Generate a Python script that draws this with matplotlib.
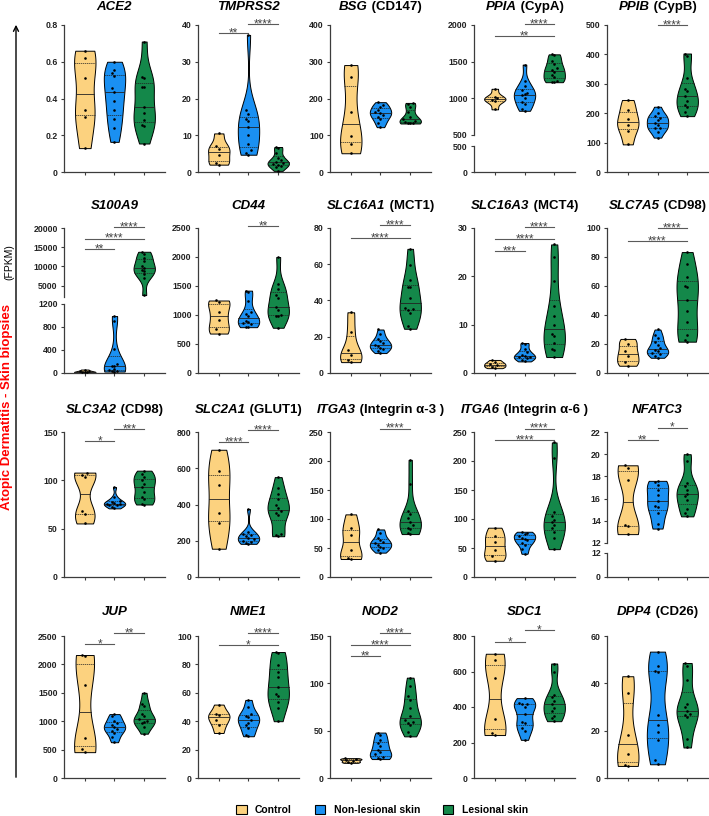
import numpy as np
import matplotlib
matplotlib.use("Agg")
import matplotlib.pyplot as plt
from matplotlib import mlab
from matplotlib.patches import Patch, FancyArrowPatch

plt.rcParams['font.family'] = ['Liberation Sans', 'DejaVu Sans']

W, H = 709, 816

groups = ["Control", "Non-lesional skin", "Lesional skin"]
colors = ["#FCD27F", "#1A90F2", "#14884A"]

# FPKM values: (control, non-lesional, lesional)
ACE2 = ([0.66, 0.62, 0.51, 0.34, 0.30, 0.13],
        [0.60, 0.555, 0.54, 0.52, 0.456, 0.433, 0.387, 0.336, 0.289, 0.238, 0.164],
        [0.71, 0.515, 0.51, 0.464, 0.46, 0.355, 0.322, 0.285, 0.255, 0.25, 0.155])
TMPRSS2 = ([10.5, 7.1, 6.2, 4.6, 2.5, 2.0],
           [37.3, 17.0, 15.7, 14.5, 14.0, 12.2, 10.0, 7.5, 5.9, 5.3, 4.7],
           [6.8, 6.6, 5.2, 3.9, 3.2, 2.8, 2.5, 2.3, 1.9, 1.7, 1.3, 0.3])
BSG = ([291, 259, 164, 97, 75, 51],
       [190, 182, 176, 170, 164, 160, 156, 150, 143, 134, 122],
       [188, 186, 176, 163, 150, 145, 139, 136, 134, 133, 132])
PPIA = ([1130, 1020, 1000, 980, 960, 850],
        [1460, 1230, 1165, 1110, 1075, 1060, 1040, 1000, 955, 920, 860, 830],
        [1600, 1590, 1510, 1470, 1410, 1390, 1360, 1320, 1290, 1240, 1225, 1220])
PPIB = ([245, 210, 180, 160, 140, 94],
        [222, 200, 191, 183, 178, 168, 160, 150, 148, 137, 117],
        [403, 395, 320, 284, 276, 257, 242, 228, 222, 205, 190])
S100A9 = ([60, 40, 30, 20, 15, 10],
          [990, 910, 417, 160, 130, 120, 70, 52, 40, 35, 25],
          [13800, 13300, 12300, 11400, 10100, 9500, 9100, 8700, 8000, 6900, 2500])
CD44 = ([1250, 1230, 1060, 910, 750, 680],
        [1420, 1390, 1240, 1060, 1010, 980, 900, 880, 860, 850, 800, 790],
        [2000, 1530, 1440, 1350, 1300, 1130, 1080, 1000, 985, 975, 780])
SLC16A1 = ([33.5, 22.7, 12.5, 9.8, 7.2, 6.0],
           [24.0, 21.3, 19.0, 17.6, 16.7, 15.5, 15.0, 14.0, 13.5, 12.0, 11.0],
           [68.5, 59.8, 51.3, 47.6, 47.3, 41.6, 35.8, 35.3, 35.0, 33.0, 26.0, 24.4])
SLC16A3 = ([2.7, 2.2, 1.9, 1.6, 1.3, 1.0],
           [6.2, 6.0, 4.9, 4.4, 3.8, 3.6, 3.4, 3.3, 3.0, 2.7, 2.4],
           [26.6, 24.0, 19.0, 13.8, 11.8, 10.0, 8.0, 7.7, 6.2, 5.0, 4.8, 3.3])
SLC7A5 = ([23.5, 20.0, 15.0, 11.6, 7.6, 5.0],
          [30.0, 26.0, 24.3, 21.6, 19.4, 17.2, 16.0, 14.9, 14.0, 13.4, 12.0, 10.5],
          [83.4, 75.0, 66.2, 60.2, 59.0, 50.6, 42.8, 35.2, 26.1, 22.7, 21.6])
SLC3A2 = ([108, 106, 103, 68.5, 64.7, 55.4],
          [93, 83, 79, 78, 77, 76, 75.5, 75, 74, 72.6, 71],
          [110, 107, 103.4, 100, 96.6, 93.2, 88, 83, 81, 76, 75])
SLC2A1 = ([702, 584, 509, 355, 296, 156],
          [375, 250, 240, 232, 224, 215, 209, 200, 193, 187, 183],
          [551, 491, 460, 429, 396, 378, 365, 351, 342, 238, 233, 225])
ITGA3 = ([108, 84, 73, 47, 33, 31],
         [82, 76, 68, 64, 60, 58, 56, 52, 50, 47, 42],
         [202, 161, 114, 109, 101, 94, 90, 85, 83, 76, 74])
ITGA6 = ([85, 71, 61, 47, 36, 28],
         [78, 76, 74, 71, 68, 65, 63, 59, 56, 48, 40],
         [232, 205, 112, 106, 99, 94, 90, 84, 77, 68, 48])
NFATC3 = ([19.0, 18.8, 17.7, 13.6, 13.5, 12.8],
          [17.6, 17.5, 17.2, 16.8, 16.3, 15.8, 15.3, 15.2, 14.7, 13.7, 13.3],
          [20.0, 19.4, 17.4, 17.1, 16.8, 16.4, 16.2, 15.9, 15.1, 14.7, 14.4])
JUP = ([2165, 2140, 1635, 700, 510, 455],
       [1125, 1085, 1010, 970, 926, 897, 870, 830, 800, 714, 630],
       [1500, 1310, 1266, 1130, 1086, 1030, 1010, 990, 960, 900, 780])
NME1 = ([51.7, 45.3, 44.4, 41.0, 37.5, 31.7],
        [55.0, 50.0, 45.0, 44.0, 42.8, 41.0, 38.6, 37.5, 35.0, 30.6, 29.4],
        [88.7, 88.0, 79.5, 74.7, 70.8, 64.4, 59.3, 58.0, 53.6, 49.0, 40.0])
NOD2 = ([21, 20, 19.5, 18, 17, 16],
        [48, 45.5, 40, 37, 34, 30, 27, 25, 22.4, 21, 20],
        [106, 97, 87, 82, 74, 66, 61, 59, 57.6, 56, 49, 44])
SDC1 = ([700, 664, 562, 331, 255, 242],
        [450, 424, 418, 415, 400, 363, 318, 312, 284, 265, 215],
        [645, 600, 470, 456, 433, 415, 396, 377, 350, 340, 320])
DPP4 = ([43, 36, 18.3, 10.3, 5.5, 5.1],
        [53.4, 47.2, 45.1, 44.8, 26.5, 22.3, 19.6, 16.1, 7.4, 5.8],
        [48.6, 47.2, 41.4, 31.3, 30, 28.5, 27.1, 26.5, 25.8, 16.4, 12.9])

# significance bars: (group a, group b, height, label)
panels = [
    dict(data=ACE2, gene="ACE2", extra="", ticks=[0, 0.2, 0.4, 0.6, 0.8], sig=[]),
    dict(data=TMPRSS2, gene="TMPRSS2", extra="", ticks=[0, 10, 20, 30, 40],
         sig=[(0, 1, 37.9, "**"), (1, 2, 40.3, "****")]),
    dict(data=BSG, gene="BSG", extra="(CD147)", ticks=[0, 100, 200, 300, 400], sig=[]),
    dict(data=PPIA, gene="PPIA", extra="(CypA)", ticks=[500, 1000, 1500, 2000],
         sig=[(0, 2, 1850, "**"), (1, 2, 2010, "****")],
         brk=dict(lo=(0, 500), lo_ticks=[0, 500], hi=(500, 2000), gap=(135, 146))),
    dict(data=PPIB, gene="PPIB", extra="(CypB)", ticks=[0, 100, 200, 300, 400, 500],
         sig=[(1, 2, 500, "****")]),
    dict(data=S100A9, gene="S100A9", extra="", ticks=[5000, 10000, 15000, 20000],
         sig=[(0, 1, 14400, "**"), (0, 2, 17250, "****"), (1, 2, 20250, "****")],
         brk=dict(lo=(0, 1200), lo_ticks=[0, 400, 800, 1200], hi=(2000, 20000), gap=(297, 304))),
    dict(data=CD44, gene="CD44", extra="", ticks=[0, 500, 1000, 1500, 2000, 2500],
         sig=[(1, 2, 2530, "**")]),
    dict(data=SLC16A1, gene="SLC16A1", extra="(MCT1)", ticks=[0, 20, 40, 60, 80],
         sig=[(0, 2, 74.7, "****"), (1, 2, 81.5, "****")]),
    dict(data=SLC16A3, gene="SLC16A3", extra="(MCT4)", ticks=[0, 10, 20, 30],
         sig=[(0, 1, 25.3, "***"), (0, 2, 27.7, "****"), (1, 2, 30.2, "****")]),
    dict(data=SLC7A5, gene="SLC7A5", extra="(CD98)", ticks=[0, 20, 40, 60, 80, 100],
         sig=[(0, 2, 91.3, "****"), (1, 2, 100, "****")]),
    dict(data=SLC3A2, gene="SLC3A2", extra="(CD98)", ticks=[0, 50, 100, 150],
         sig=[(0, 1, 140.4, "*"), (1, 2, 152.7, "***")]),
    dict(data=SLC2A1, gene="SLC2A1", extra="(GLUT1)", ticks=[0, 200, 400, 600, 800],
         sig=[(0, 1, 745, "****"), (1, 2, 811, "****")]),
    dict(data=ITGA3, gene="ITGA3", extra="(Integrin α-3 )", ticks=[0, 50, 100, 150, 200, 250],
         sig=[(1, 2, 256, "****")]),
    dict(data=ITGA6, gene="ITGA6", extra="(Integrin α-6 )", ticks=[0, 50, 100, 150, 200, 250],
         sig=[(0, 2, 235.7, "****"), (1, 2, 256, "****")]),
    dict(data=NFATC3, gene="NFATC3", extra="", ticks=[12, 14, 16, 18, 20, 22],
         sig=[(0, 1, 21.3, "**"), (1, 2, 22.4, "*")],
         brk=dict(lo=(0, 12), lo_ticks=[0, 12], hi=(12, 22), gap=(543, 553))),
    dict(data=JUP, gene="JUP", extra="", ticks=[0, 500, 1000, 1500, 2000, 2500],
         sig=[(0, 1, 2357, "*"), (1, 2, 2557, "**")]),
    dict(data=NME1, gene="NME1", extra="", ticks=[0, 20, 40, 60, 80, 100],
         sig=[(0, 2, 93.8, "*"), (1, 2, 102.3, "****")]),
    dict(data=NOD2, gene="NOD2", extra="", ticks=[0, 50, 100, 150],
         sig=[(0, 1, 128.6, "**"), (0, 2, 140.7, "****"), (1, 2, 153.4, "****")]),
    dict(data=SDC1, gene="SDC1", extra="", ticks=[0, 200, 400, 600, 800],
         sig=[(0, 1, 766, "*"), (1, 2, 832, "*")]),
    dict(data=DPP4, gene="DPP4", extra="(CD26)", ticks=[0, 20, 40, 60], sig=[]),
]

col_x = [64, 198, 330, 474, 607]
row_y = [(25, 172), (228, 373), (432, 577), (636, 778)]
AX_W = 101
BW = 0.5
VW = 0.72
axc = "#3c3c3c"

fig = plt.figure(figsize=(W / 100, H / 100), dpi=100)


def rect(x0, top, bottom):
    return [x0 / W, 1 - bottom / H, AX_W / W, (bottom - top) / H]


def style(ax, ticks, ylim, xaxis=True):
    ax.set_xlim(-0.7, 2.7)
    ax.set_ylim(*ylim)
    ax.set_yticks(ticks)
    ax.set_yticklabels([f"{t:g}" for t in ticks], fontweight="bold")
    ax.spines[["top", "right"]].set_visible(False)
    for s in ("left", "bottom"):
        ax.spines[s].set_color(axc)
        ax.spines[s].set_linewidth(0.9)
    if xaxis:
        ax.set_xticks([0, 1, 2])
        ax.set_xticklabels([])
    else:
        ax.spines["bottom"].set_visible(False)
        ax.set_xticks([])
    ax.tick_params(length=2.5, width=0.8, color=axc, pad=2, labelsize=6.3, labelcolor="#222")
    ax.patch.set_visible(False)


def draw_groups(ax, data, span):
    for i, vals in enumerate(data):
        vals = np.asarray(vals, float)
        parts = ax.violinplot(vals, positions=[i], widths=VW, showextrema=False, bw_method=BW)
        body = parts["bodies"][0]
        body.set_facecolor(colors[i])
        body.set_edgecolor("black")
        body.set_linewidth(0.7)
        body.set_alpha(1)
        kde = mlab.GaussianKDE(vals, BW)
        vmax = kde.evaluate(np.linspace(vals.min(), vals.max(), 100)).max()

        def half(y):
            return kde.evaluate(np.atleast_1d(y))[0] / vmax * VW / 2

        q1, med, q3 = np.percentile(vals, [25, 50, 75])
        for q, ls, lw in ((q1, (0, (2, 1)), 0.5), (med, "-", 0.6), (q3, (0, (2, 1)), 0.5)):
            hw = half(q)
            ax.plot([i - hw, i + hw], [q, q], color="#222", lw=lw, ls=ls, zorder=2)

        # spread dots sideways where values crowd together
        offs = np.zeros(len(vals))
        placed = []
        for k in np.argsort(vals):
            near = [offs[m] for m in placed if abs(vals[m] - vals[k]) < 0.035 * span]
            o = 0.0
            for c in (0, -1, 1, -2, 2, -3, 3):
                o = c * 0.085
                if all(abs(o - n) > 0.06 for n in near):
                    break
            lim = half(vals[k]) * 0.75
            offs[k] = np.clip(o, -lim, lim)
            placed.append(k)
        ax.scatter(i + offs, vals, s=3.5, color="black", zorder=3, linewidths=0)


def draw_sig(ax, sig):
    for a, b, y, lab in sig:
        ax.plot([a, b], [y, y], color="#5a5a5a", lw=0.8, clip_on=False)
        ax.annotate(lab, xy=((a + b) / 2, y), xytext=(0, -2.4), textcoords="offset points",
                    ha="center", va="baseline", fontsize=8.5, color="#444",
                    annotation_clip=False)


renderer = fig.canvas.get_renderer()


def panel_title(x_center_px, y_px, gene, extra):
    t1 = fig.text(0, 1 - y_px / H, gene, fontsize=9.5, fontweight="bold", fontstyle="italic",
                  va="center", ha="left")
    parts = [t1]
    if extra:
        parts.append(fig.text(0, 1 - y_px / H, " " + extra, fontsize=9.5, fontweight="bold",
                              va="center", ha="left"))
    widths = [t.get_window_extent(renderer).width for t in parts]
    x = x_center_px - sum(widths) / 2
    for t, w in zip(parts, widths):
        t.set_x(x / W)
        x += w


title_y = [7, 206, 410, 612]

for n, p in enumerate(panels):
    r, c = divmod(n, 5)
    top, bottom = row_y[r]
    x0 = col_x[c]
    if "brk" in p:
        b = p["brk"]
        ax_hi = fig.add_axes(rect(x0, top, b["gap"][0]))
        ax_lo = fig.add_axes(rect(x0, b["gap"][1], bottom))
        style(ax_hi, p["ticks"], b["hi"], xaxis=False)
        style(ax_lo, b["lo_ticks"], b["lo"])
        draw_groups(ax_hi, p["data"], b["hi"][1] - b["hi"][0])
        draw_groups(ax_lo, p["data"], b["lo"][1] - b["lo"][0])
        draw_sig(ax_hi, p["sig"])
    else:
        ax = fig.add_axes(rect(x0, top, bottom))
        style(ax, p["ticks"], (0, p["ticks"][-1]))
        draw_groups(ax, p["data"], p["ticks"][-1])
        draw_sig(ax, p["sig"])
    panel_title(x0 + AX_W / 2, title_y[r], p["gene"], p["extra"])

# shared y label with arrow
fig.add_artist(FancyArrowPatch((16 / W, 1 - 780 / H), (16 / W, 1 - 22 / H),
                               transform=fig.transFigure, arrowstyle="->",
                               mutation_scale=9, lw=1.0, color="black"))
fig.text(7 / W, 1 - 407 / H, "Atopic Dermatitis - Skin biopsies", rotation=90, color="red",
         fontsize=9.5, fontweight="bold", ha="center", va="center")
fig.text(9 / W, 1 - 262 / H, "(FPKM)", rotation=90, color="black",
         fontsize=7.5, ha="center", va="center")

handles = [Patch(facecolor=col, edgecolor="black", lw=0.8) for col in colors]
fig.legend(handles, groups, loc="center", bbox_to_anchor=(382 / W, 1 - 810 / H), ncol=3,
           frameon=False, handlelength=1.0, handleheight=1.0, handletextpad=0.8,
           columnspacing=2.2, prop=dict(weight="bold", size=7.5))

fig.savefig("out.png", dpi=100)
